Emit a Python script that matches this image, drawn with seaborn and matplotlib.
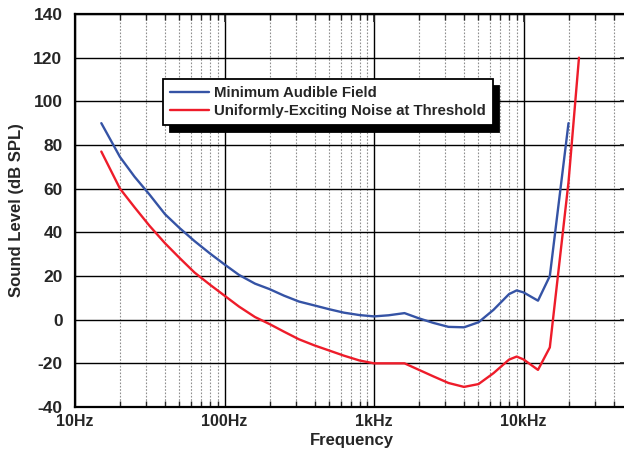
import numpy as np
import pandas as pd
import matplotlib
matplotlib.use("Agg")
import matplotlib.pyplot as plt
from matplotlib.ticker import LogLocator, FixedLocator, NullFormatter
import seaborn as sns

# ---- data ----
maf_freq = [15, 20, 25, 31.5, 40, 50, 63, 80, 100, 125, 160, 200, 250, 315, 400, 500,
            630, 800, 1000, 1250, 1600, 2000, 2500, 3150, 4000, 5000, 6300, 8000,
            9000, 10000, 12500, 15000, 20000]
maf_level = [90, 74.5, 65.5, 57.3, 48.3, 42, 36, 30.3, 25.3, 20.5, 16.5, 14.0, 11, 8.3, 6.5, 4.8,
             3.2, 2.1, 1.5, 2.0, 3.0, 0.6, -1.5, -3.3, -3.5, -1.2, 4.5, 11.7,
             13.4, 12.5, 8.7, 20, 90]

uen_freq = [15, 20, 25, 31.5, 40, 50, 63, 80, 100, 125, 160, 200, 250, 315, 400, 500,
            630, 800, 1000, 1600, 2000, 2500, 3150, 4000, 5000, 6300, 8000,
            9000, 10000, 12500, 15000, 20000, 23500]
uen_level = [77, 60, 51.5, 43, 35, 28.3, 21.6, 16, 11, 6, 1.2, -2, -5.5, -9, -11.8, -14.1,
             -16.5, -18.7, -20, -20, -23, -26, -29, -30.8, -29.5, -24.5, -18.3,
             -16.9, -18.2, -23, -12.7, 63, 120]

series_names = ["Minimum Audible Field", "Uniformly-Exciting Noise at Threshold"]
series_colors = ["#3553A5", "#EE1C2A"]

x_major = [10, 100, 1000, 10000]
x_labels = ["10Hz", "100Hz", "1kHz", "10kHz"]
y_ticks = [-40, -20, 0, 20, 40, 60, 80, 100, 120, 140]

df = pd.concat([
    pd.DataFrame({"Frequency": maf_freq, "Level": maf_level, "Series": series_names[0]}),
    pd.DataFrame({"Frequency": uen_freq, "Level": uen_level, "Series": series_names[1]}),
], ignore_index=True)

sns.set_style("white")
plt.rcParams["font.family"] = ["Liberation Sans", "DejaVu Sans"]
plt.rcParams["font.weight"] = "bold"
plt.rcParams["axes.unicode_minus"] = False

fig = plt.figure(figsize=(6.24, 4.54), dpi=100)
W, H = 624, 454
left_px, right_px, top_px, bot_px = 75, 628, 14, 407
ax = fig.add_axes([left_px / W, 1 - bot_px / H, (right_px - left_px) / W, (bot_px - top_px) / H])
ax.set_xscale("log")

sns.lineplot(data=df, x="Frequency", y="Level", hue="Series", palette=series_colors,
             hue_order=series_names, estimator=None, sort=False, lw=1.7, ax=ax, zorder=5)

ax.set_xlim(10, 50000)
ax.set_ylim(-40, 140)

ax.xaxis.set_major_locator(FixedLocator(x_major))
ax.set_xticks(x_major)
ax.set_xticklabels(x_labels)
ax.xaxis.set_minor_locator(LogLocator(base=10, subs=np.arange(2, 10), numticks=20))
ax.xaxis.set_minor_formatter(NullFormatter())
ax.set_yticks(y_ticks)

ax.grid(which="major", color="black", lw=1.0, ls="-")
ax.grid(which="minor", axis="x", color="#8f8f8f", lw=0.8, ls=(0, (1.5, 1.5)))
ax.set_axisbelow(True)

ax.tick_params(axis="both", which="major", direction="in", length=6, width=1.2,
               top=True, right=True)
ax.tick_params(axis="x", which="major", labelsize=11.5, pad=5)
ax.tick_params(axis="y", which="major", labelsize=12.5, pad=9)
ax.tick_params(axis="x", which="minor", direction="in", length=4, width=1.0, top=True, bottom=True)
for lab in ax.get_xticklabels() + ax.get_yticklabels():
    lab.set_fontweight("bold")

for s in ax.spines.values():
    s.set_color("black")
    s.set_linewidth(1.6)

ax.set_xlabel("Frequency", fontsize=12, fontweight="bold", labelpad=3)
ax.set_ylabel("Sound Level (dB SPL)", fontsize=12, fontweight="bold", labelpad=7)

leg = ax.legend(loc="upper left", bbox_to_anchor=((163 - left_px) / (right_px - left_px),
                                                    (bot_px - 79) / (bot_px - top_px)),
                borderaxespad=0, frameon=True, fancybox=False, edgecolor="black",
                framealpha=1, prop={"weight": "bold", "size": 10.8},
                handlelength=2.6, handletextpad=0.35, labelspacing=0.3,
                borderpad=0.45,
                shadow={"ox": 4.8, "oy": -4.8, "color": "black", "alpha": 1})
leg.get_frame().set_linewidth(1.3)
leg.set_zorder(10)
for line in leg.get_lines():
    line.set_linewidth(1.7)

fig.savefig("out.png", dpi=100)
